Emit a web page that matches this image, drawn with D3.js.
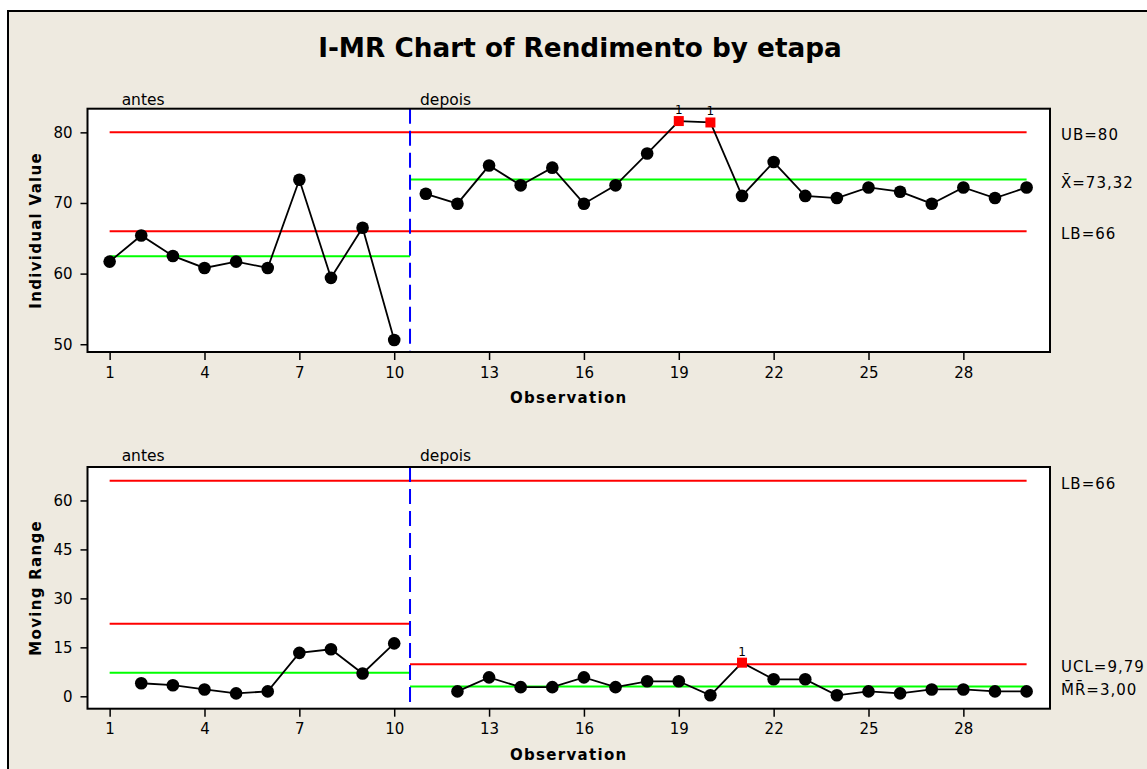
<!DOCTYPE html>
<html>
<head>
<meta charset="utf-8">
<script src="https://d3js.org/d3.v7.min.js"></script>
<style>
body { margin: 0; background: #ffffff; }
text { font-family: "DejaVu Sans", sans-serif; }
</style>
</head>
<body>
<div id="chart"></div>
<script>
// data
var observations = [1, 2, 3, 4, 5, 6, 7, 8, 9, 10,
    11, 12, 13, 14, 15, 16, 17, 18, 19, 20,
    21, 22, 23, 24, 25, 26, 27, 28, 29, 30];
var stages = ["antes", "antes", "antes", "antes", "antes", "antes", "antes", "antes", "antes", "antes",
    "depois", "depois", "depois", "depois", "depois", "depois", "depois", "depois", "depois", "depois",
    "depois", "depois", "depois", "depois", "depois", "depois", "depois", "depois", "depois", "depois"];
var individual = [61.7, 65.4, 62.5, 60.8, 61.7, 60.8, 73.3, 59.4, 66.5, 50.6,
    71.3, 69.9, 75.3, 72.5, 75.0, 69.9, 72.5, 77.0, 81.6, 81.4,
    71.0, 75.8, 71.0, 70.7, 72.2, 71.6, 69.9, 72.2, 70.7, 72.2];
var movingRange = [null, 4.0, 3.4, 2.1, 0.9, 1.5, 13.3, 14.4, 7.0, 16.2,
    null, 1.5, 5.8, 2.8, 2.8, 5.8, 2.8, 4.6, 4.6, 0.3,
    10.3, 5.2, 5.2, 0.3, 1.5, 0.9, 2.1, 2.1, 1.5, 1.5];
var indivFlagged = [19, 20];
var mrFlagged = [21];

var stageNames = ["antes", "depois"];
var stageStart = [1, 10.5];
var stageEnd = [10.5, 30];

var indivBounds = [80, 66];
var indivMean = [62.45, 73.32];
var mrBound = 66;
var mrUCL = [22.2, 9.79];
var mrMean = [7.2, 3.00];

var xTicks = [1, 4, 7, 10, 13, 16, 19, 22, 25, 28];
var indivTicks = [50, 60, 70, 80];
var mrTicks = [0, 15, 30, 45, 60];
var indivLabels = ["UB=80", "X\u0304=73,32", "LB=66"];
var mrLabels = ["LB=66", "UCL=9,79", "M\u0304R\u0304=3,00"];

// dimensions
var width = 1147;
var height = 769;

var svg = d3.select("#chart")
    .append("svg")
    .attr("width", width)
    .attr("height", height);

svg.append("rect")
    .attr("x", 8)
    .attr("y", 11)
    .attr("width", width)
    .attr("height", height)
    .attr("fill", "#eeeae0")
    .attr("stroke", "#000000")
    .attr("stroke-width", 2);

svg.append("text")
    .attr("x", 580)
    .attr("y", 57)
    .attr("text-anchor", "middle")
    .attr("font-size", "26.3px")
    .attr("font-weight", 700)
    .text("I-MR Chart of Rendimento by etapa");

function drawPanel(p) {
    var x = d3.scaleLinear().domain([0.3, 30.74]).range([p.left, p.right]);
    var y = d3.scaleLinear().domain(p.yDomain).range([p.bottom, p.top]);

    var g = svg.append("g");

    g.append("rect")
        .attr("x", p.left)
        .attr("y", p.top)
        .attr("width", p.right - p.left)
        .attr("height", p.bottom - p.top)
        .attr("fill", "#ffffff");

    // axes
    var xAxis = g.append("g")
        .attr("transform", "translate(0," + p.bottom + ")")
        .call(d3.axisBottom(x).tickValues(xTicks).tickSize(8).tickPadding(7).tickSizeOuter(0));
    var yAxis = g.append("g")
        .attr("transform", "translate(" + p.left + ",0)")
        .call(d3.axisLeft(y).tickValues(p.ticks).tickSize(7).tickPadding(8).tickSizeOuter(0));
    [xAxis, yAxis].forEach(function (a) {
        a.select(".domain").remove();
        a.attr("font-size", 15).attr("font-family", "DejaVu Sans, sans-serif");
        a.selectAll("line").attr("stroke-width", 1.5);
    });

    // axis titles
    g.append("text")
        .attr("x", (p.left + p.right) / 2)
        .attr("y", p.bottom + 51)
        .attr("text-anchor", "middle")
        .attr("font-size", "15px")
        .attr("font-weight", 700)
        .attr("letter-spacing", "1.3px")
        .text("Observation");
    g.append("text")
        .attr("transform", "translate(41," + ((p.top + p.bottom) / 2) + ") rotate(-90)")
        .attr("text-anchor", "middle")
        .attr("font-size", "15px")
        .attr("font-weight", 700)
        .attr("letter-spacing", "1.3px")
        .text(p.yTitle);

    // stage names
    g.selectAll(".stageName")
        .data(stageNames)
        .enter()
        .append("text")
        .attr("x", function (d, i) { return x(stageStart[i]) + (i == 0 ? 12 : 10); })
        .attr("y", p.top - p.stageGap)
        .attr("font-size", "15.5px")
        .text(function (d) { return d; });

    // limit lines
    p.lines.forEach(function (l) {
        g.append("line")
            .attr("x1", x(l.from))
            .attr("x2", x(l.to))
            .attr("y1", y(l.value))
            .attr("y2", y(l.value))
            .attr("stroke", l.color)
            .attr("stroke-width", 2);
    });

    // stage change
    g.append("line")
        .attr("x1", x(stageStart[1]))
        .attr("x2", x(stageStart[1]))
        .attr("y1", p.top)
        .attr("y2", p.bottom)
        .attr("stroke", "#0000ff")
        .attr("stroke-width", 2)
        .attr("stroke-dasharray", "15,7");

    var pts = observations.map(function (o, i) {
        return { obs: o, stage: stages[i], value: p.values[i] };
    }).filter(function (d) { return d.value != null; });

    var line = d3.line()
        .x(function (d) { return x(d.obs); })
        .y(function (d) { return y(d.value); });

    stageNames.forEach(function (s) {
        g.append("path")
            .attr("d", line(pts.filter(function (d) { return d.stage == s; })))
            .attr("fill", "none")
            .attr("stroke", "#000000")
            .attr("stroke-width", 1.8);
    });

    g.selectAll(".dot")
        .data(pts.filter(function (d) { return p.flagged.indexOf(d.obs) < 0; }))
        .enter()
        .append("circle")
        .attr("cx", function (d) { return x(d.obs); })
        .attr("cy", function (d) { return y(d.value); })
        .attr("r", 6.3)
        .attr("fill", "#000000");

    var bad = pts.filter(function (d) { return p.flagged.indexOf(d.obs) >= 0; });
    g.selectAll(".bad")
        .data(bad)
        .enter()
        .append("rect")
        .attr("x", function (d) { return x(d.obs) - 5; })
        .attr("y", function (d) { return y(d.value) - 5; })
        .attr("width", 10)
        .attr("height", 10)
        .attr("fill", "#ff0000");
    g.selectAll(".badLabel")
        .data(bad)
        .enter()
        .append("text")
        .attr("x", function (d) { return x(d.obs); })
        .attr("y", function (d) { return y(d.value) - 7; })
        .attr("text-anchor", "middle")
        .attr("font-size", "12px")
        .text("1");

    // frame
    g.append("rect")
        .attr("x", p.left)
        .attr("y", p.top)
        .attr("width", p.right - p.left)
        .attr("height", p.bottom - p.top)
        .attr("fill", "none")
        .attr("stroke", "#000000")
        .attr("stroke-width", 2);

    // right labels
    p.labels.forEach(function (l) {
        g.append("text")
            .attr("x", 1061)
            .attr("y", y(l.value) + 8)
            .attr("font-size", "15px")
            .attr("letter-spacing", "1px")
            .text(l.text);
    });
}

drawPanel({
    left: 87.5, right: 1050, top: 108.7, bottom: 352,
    yDomain: [48.9, 83.35],
    ticks: indivTicks,
    yTitle: "Individual Value",
    stageGap: 4,
    values: individual,
    flagged: indivFlagged,
    lines: [
        { from: 1, to: 30, value: indivBounds[0], color: "#ff0000" },
        { from: 1, to: 30, value: indivBounds[1], color: "#ff0000" },
        { from: stageStart[0], to: stageEnd[0], value: indivMean[0], color: "#00ff00" },
        { from: stageStart[1], to: stageEnd[1], value: indivMean[1], color: "#00ff00" }
    ],
    labels: [
        { value: indivBounds[0], text: indivLabels[0] },
        { value: indivMean[1], text: indivLabels[1] },
        { value: indivBounds[1], text: indivLabels[2] }
    ]
});

drawPanel({
    left: 87.5, right: 1050, top: 467, bottom: 708.7,
    yDomain: [-3.8, 70.25],
    ticks: mrTicks,
    yTitle: "Moving Range",
    stageGap: 6,
    values: movingRange,
    flagged: mrFlagged,
    lines: [
        { from: 1, to: 30, value: mrBound, color: "#ff0000" },
        { from: stageStart[0], to: stageEnd[0], value: mrUCL[0], color: "#ff0000" },
        { from: stageStart[1], to: stageEnd[1], value: mrUCL[1], color: "#ff0000" },
        { from: stageStart[0], to: stageEnd[0], value: mrMean[0], color: "#00ff00" },
        { from: stageStart[1], to: stageEnd[1], value: mrMean[1], color: "#00ff00" }
    ],
    labels: [
        { value: mrBound, text: mrLabels[0] },
        { value: mrUCL[1], text: mrLabels[1] },
        { value: mrMean[1], text: mrLabels[2] }
    ]
});
</script>
</body>
</html>
